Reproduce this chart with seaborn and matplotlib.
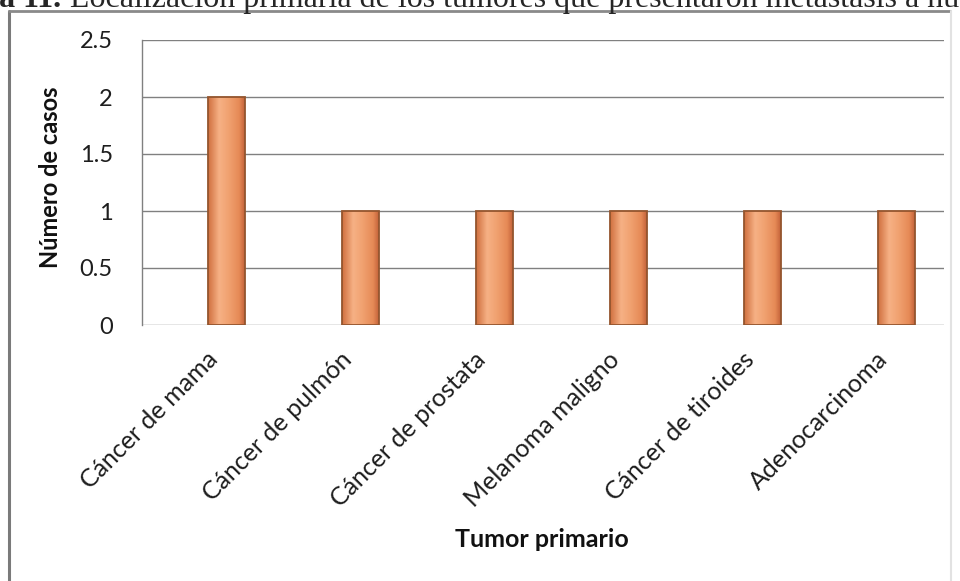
import matplotlib
matplotlib.use("Agg")
import matplotlib.pyplot as plt
import seaborn as sns
import numpy as np
import pandas as pd
from matplotlib.transforms import ScaledTranslation
from matplotlib.colors import LinearSegmentedColormap
from matplotlib.lines import Line2D

# Datos
categorias = ["Cáncer de mama", "Cáncer de pulmón", "Cáncer de prostata",
              "Melanoma maligno", "Cáncer de tiroides", "Adenocarcinoma"]
casos = [2, 1, 1, 1, 1, 1]
y_ticks = [0, 0.5, 1, 1.5, 2, 2.5]
y_tick_labels = ["0", "0.5", "1", "1.5", "2", "2.5"]

sns.set_theme(style="white")
plt.rcParams["font.family"] = ["Lato", "DejaVu Sans"]

W, H = 960, 581
fig = plt.figure(figsize=(W / 100, H / 100), dpi=100)
fig.patch.set_facecolor("white")
ax = fig.add_axes([142 / W, 1 - 325 / H, 802 / W, 285 / H])

df = pd.DataFrame({"tumor": categorias, "casos": casos})
sns.barplot(data=df, x="tumor", y="casos", width=0.276, color="#EE9A66",
            saturation=1, edgecolor="#94552E", linewidth=1.3, ax=ax, zorder=3)

# Relleno degradado de las columnas
cmap = LinearSegmentedColormap.from_list(
    "naranja", [(0.0, "#D0703F"), (0.3, "#F6B185"), (0.55, "#F1A271"),
                (0.85, "#E68A56"), (1.0, "#C4633A")])
grad = np.tile(np.linspace(0, 1, 64), (2, 1))
for p in list(ax.patches):
    x0, y0, w, h = p.get_x(), p.get_y(), p.get_width(), p.get_height()
    im = ax.imshow(grad, extent=[x0, x0 + w, y0, y0 + h], cmap=cmap,
                   aspect="auto", zorder=3.5, interpolation="bicubic")
    im.set_clip_path(p)
    p.set_facecolor("none")
    p.set_zorder(4)

ax.set_xlim(-0.627, 5.358)
ax.set_ylim(0, 2.5)
ax.set_yticks(y_ticks)
ax.set_yticklabels(y_tick_labels)

ax.grid(axis="y", color="#808080", lw=1.0, zorder=0)
ax.grid(axis="x", visible=False)
ax.set_axisbelow(True)
for s in ["top", "right", "bottom"]:
    ax.spines[s].set_visible(False)
ax.spines["left"].set_color("#808080")
ax.spines["left"].set_linewidth(1.0)

ax.tick_params(axis="y", length=0, pad=21, labelsize=17, labelcolor="#1e1e1e")
ax.tick_params(axis="x", length=0, pad=22, labelsize=18, labelcolor="#1e1e1e")
shift = ScaledTranslation(-12 / 100, 0, fig.dpi_scale_trans)
for lab in ax.get_xticklabels():
    lab.set_rotation(45)
    lab.set_ha("right")
    lab.set_va("center")
    lab.set_rotation_mode("anchor")
    lab.set_transform(lab.get_transform() + shift)

ax.set_xlabel("Tumor primario", fontsize=18, fontweight="bold",
              color="#111111", va="center")
ax.xaxis.set_label_coords(0.499, -0.754)
ax.set_ylabel("Número de casos", fontsize=17, fontweight="bold",
              color="#111111", va="center")
ax.yaxis.set_label_coords(-0.1135, 0.52)

# Marco del gráfico
fig.add_artist(Line2D([9 / W, 9 / W], [0, 1 - 11 / H], transform=fig.transFigure,
                      color="#7a7a7a", lw=2.2))
fig.add_artist(Line2D([9 / W, 950 / W], [1 - 11 / H, 1 - 11 / H],
                      transform=fig.transFigure, color="#8a8a8a", lw=2.0))
fig.add_artist(Line2D([951 / W, 951 / W], [0, 1 - 11 / H], transform=fig.transFigure,
                      color="#e2e2e2", lw=1.5))

# Título del documento
fig.text(61 / W, 1 - 7 / H, "Gráfica 11.", ha="right", va="baseline",
         fontfamily="Liberation Serif", fontweight="bold", fontsize=23)
fig.text(70 / W, 1 - 7 / H,
         "Localización primaria de los tumores que presentaron metástasis a hueso",
         ha="left", va="baseline", fontfamily="Liberation Serif", fontsize=23)

fig.savefig("out.png", dpi=100)
